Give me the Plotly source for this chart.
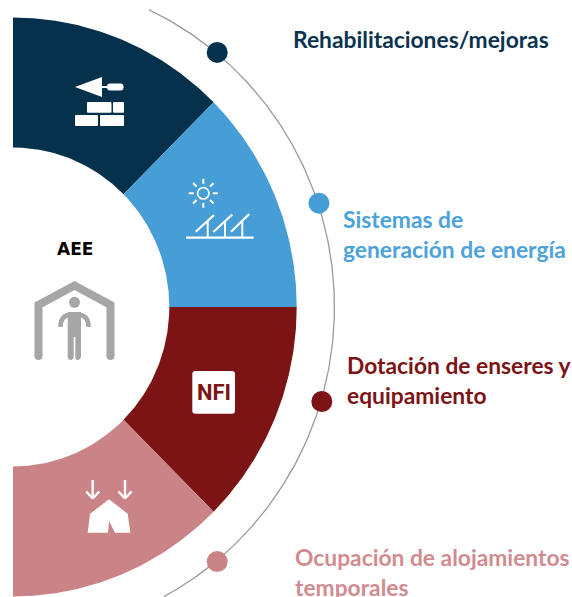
import numpy as np
import plotly.graph_objects as go

W, H = 572, 597
categories = ["Rehabilitaciones/mejoras", "Sistemas de<br>generación de energía",
              "Dotación de enseres y<br>equipamiento", "Ocupación de alojamientos<br>temporales"]
colors = ["#06314d", "#479dd5", "#7c1315", "#ca8487"]
text_colors = ["#0b3350", "#4da2d9", "#7c1315", "#d08c90"]
sector_start = [90, 45, 0, -45]
sector_end = [45, 0, -45, -90]
inner_radius = 159.5
outer_radius = 289.5
arc_radius = 328
arc_from, arc_to = 65, -62
dot_angles = [50.7, 18.4, -16.7, -50.7]
dot_radius = 329
label_x = [293, 343, 347, 295]
label_y = [25, 204.5, 350.5, 542.5]

XS = 0.98
CX, CY = 13, 307


def pol(r, deg):
    a = np.radians(np.asarray(deg, float))
    return r * np.cos(a), r * np.sin(a)


fig = go.Figure()
for name, c, a0, a1 in zip(categories, colors, sector_start, sector_end):
    t = np.linspace(a0, a1, 90)
    xo, yo = pol(outer_radius, t)
    xi, yi = pol(inner_radius, t[::-1])
    fig.add_trace(go.Scatter(x=np.r_[xo, xi, xo[0]], y=np.r_[yo, yi, yo[0]], mode="lines",
                             fill="toself", fillcolor=c, line=dict(width=0, color=c),
                             name=name.replace("<br>", " "), showlegend=False, hoverinfo="name"))
t = np.linspace(arc_from, arc_to, 200)
ax, ay = pol(arc_radius, t)
fig.add_trace(go.Scatter(x=ax, y=ay, mode="lines", line=dict(color="#9a9a9a", width=1.3),
                         showlegend=False, hoverinfo="skip"))
dx, dy = pol(dot_radius, dot_angles)
fig.add_trace(go.Scatter(x=dx, y=dy, mode="markers", marker=dict(size=21, color=colors),
                         showlegend=False, hoverinfo="skip"))
# invisible trace to activate the pixel axes
fig.add_trace(go.Scatter(x=[0, W], y=[0, H], xaxis="x2", yaxis="y2", mode="markers",
                         marker=dict(opacity=0), showlegend=False, hoverinfo="skip"))

shapes = []


def fill(path, color="white"):
    shapes.append(dict(type="path", path=path, xref="x2", yref="y2", fillcolor=color,
                       line=dict(width=0), layer="above"))


def stroke(x0, y0, x1, y1, w=2, color="white"):
    shapes.append(dict(type="line", x0=x0, y0=y0, x1=x1, y1=y1, xref="x2", yref="y2",
                       line=dict(color=color, width=w), layer="above"))


def rrect(x0, y0, x1, y1, r=1.0, color="white"):
    fill(f"M{x0+r},{y0} L{x1-r},{y0} Q{x1},{y0} {x1},{y0+r} L{x1},{y1-r} Q{x1},{y1} {x1-r},{y1} "
         f"L{x0+r},{y1} Q{x0},{y1} {x0},{y1-r} L{x0},{y0+r} Q{x0},{y0} {x0+r},{y0} Z", color)


def circ(cx, cy, r, line=None, w=0, fc="white"):
    shapes.append(dict(type="circle", x0=cx-r, x1=cx+r, y0=cy-r, y1=cy+r, xref="x2", yref="y2",
                       fillcolor=fc, line=dict(width=w, color=line or fc), layer="above"))


# trowel and bricks
fill("M75,87 L102,77 L102,97 Z")
stroke(101, 87, 108, 87, 2)
rrect(107, 83.5, 123.5, 90.5, 3)
rrect(87, 102, 111.5, 112.7)
rrect(113, 102, 124, 112.7)
rrect(75, 115, 98, 126)
rrect(100, 115, 124, 126)

# sun and panels
circ(203.3, 193.3, 5.7, "white", 1.7, "rgba(0,0,0,0)")
for a in range(0, 360, 45):
    c, s = np.cos(np.radians(a)), np.sin(np.radians(a))
    stroke(203.3 + 9.5*c, 193.3 + 9.5*s, 203.3 + 14.5*c, 193.3 + 14.5*s, 2)
stroke(186, 237.7, 253.7, 237.7, 2.2)
for x0, y0, x1, y1, vx in [(195.7, 231.7, 214, 215, 207.7), (213.3, 232, 232.3, 214.5, 225),
                           (231, 231.7, 249.3, 214, 242.3)]:
    stroke(x0, y0, x1, y1, 2.2)
    stroke(vx, 221, vx, 237.7, 2)

# NFI badge
rrect(192.3, 371, 235, 413.7, 3)

# tent with arrows
fill("M87.7,532.7 L90,513.7 L109,499.3 L127.7,513.7 L130.3,532.7 L115,532.7 L109,521 L108,532.7 Z")
for x in (92.7, 125):
    stroke(x, 480, x, 498, 2.4)
    stroke(x - 6.5, 491.5, x, 498.5, 2.4)
    stroke(x + 6.5, 491.5, x, 498.5, 2.4)

# shelter and person
G = "#a6a6a6"
shapes.append(dict(type="path", path="M38.5,356 L38.5,305 L74.5,285.5 L110.5,305 L110.5,356",
                   xref="x2", yref="y2", line=dict(color=G, width=8), layer="above"))
circ(38.5, 356, 4, fc=G)
circ(110.5, 356, 4, fc=G)
circ(74.5, 302.3, 5.5, fc=G)
shapes.append(dict(type="path", path="M60.5,327 Q60.5,314.5 72,314.5 L77,314.5 Q88.5,314.5 88.5,327",
                   xref="x2", yref="y2", line=dict(color=G, width=4.5), layer="above"))
fill("M67.7,312 L81,312 L81,356 Q81,360 77.5,360 Q75.3,360 75.3,356 L75.3,337 L73.7,337 L73.7,356 "
     "Q73.7,360 70.7,360 Q67.7,360 67.7,356 Z", G)

annotations = []
for txt, c, x, y in zip(categories, text_colors, label_x, label_y):
    annotations.append(dict(text=f"<b>{txt}</b>", x=x, y=y, xref="x2", yref="y2", xanchor="left",
                            yanchor="top", align="left", showarrow=False, borderpad=0, borderwidth=0,
                            font=dict(family="Lato", size=22.8, color=c)))
annotations.append(dict(text="<b>AEE</b>", x=75, y=249, xref="x2", yref="y2", showarrow=False,
                        font=dict(family="DejaVu Sans", size=17, color="#000000")))
annotations.append(dict(text="<b>NFI</b>", x=213.6, y=392.5, xref="x2", yref="y2", showarrow=False,
                        font=dict(family="Roboto", size=22, color="#7c1315")))

hidden = dict(visible=False, showgrid=False, zeroline=False, fixedrange=True)
fig.update_layout(
    width=W, height=H, margin=dict(l=0, r=0, t=0, b=0), paper_bgcolor="white", plot_bgcolor="white",
    xaxis=dict(range=[-CX / XS, (W - CX) / XS], domain=[0, 1], **hidden),
    yaxis=dict(range=[-(H - CY), CY], domain=[0, 1], **hidden),
    xaxis2=dict(range=[0, W], overlaying="x", **hidden),
    yaxis2=dict(range=[H, 0], overlaying="y", **hidden),
    shapes=shapes, annotations=annotations, showlegend=False,
)
fig.write_html("out.html", config=dict(displayModeBar=False),
               post_script="document.body.style.margin='0';document.documentElement.style.overflow='hidden';")
